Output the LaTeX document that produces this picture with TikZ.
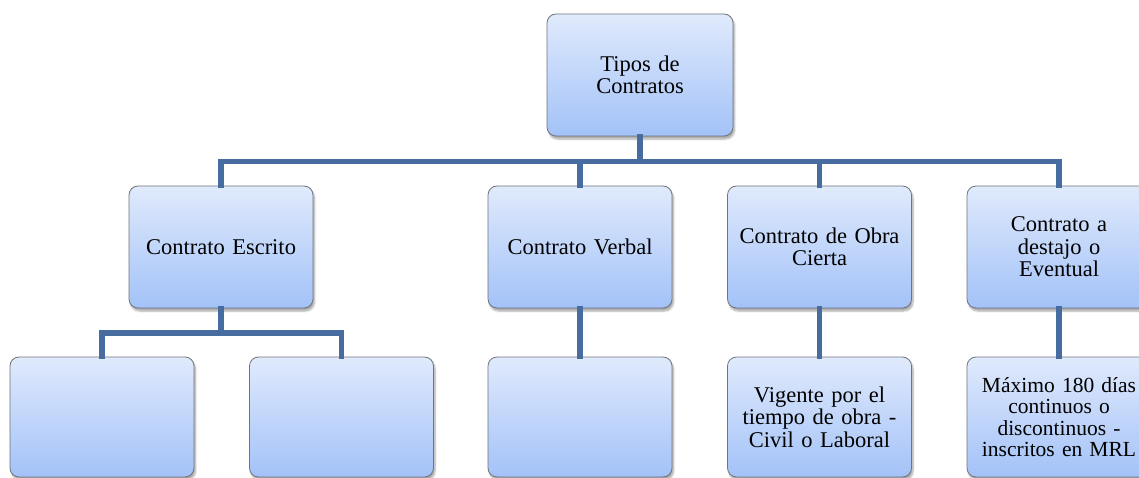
\documentclass[tikz,border=0pt]{standalone}
\usepackage{fontspec}
\setmainfont{Liberation Serif}[WordSpace={0.75,0.5,0.5}]
\usetikzlibrary{shadows.blur}
\definecolor{conncol}{RGB}{70,108,160}
\definecolor{boxtop}{RGB}{224,234,252}
\definecolor{boxbot}{RGB}{163,194,248}
\definecolor{boxline}{RGB}{112,116,124}
\tikzset{
  box/.style={rectangle, rounded corners=9pt, draw=boxline, line width=0.8pt,
    top color=boxtop, bottom color=boxbot, minimum width=184pt, text width=178pt,
    align=center, inner sep=0pt, font=\fontsize{22.5}{22.5}\selectfont,
    blur shadow={shadow xshift=1.5pt, shadow yshift=-3pt, shadow blur steps=6, shadow opacity=35}},
  upper/.style={box, minimum height=122pt},
  lower/.style={box, minimum height=120pt},
  conn/.style={draw=conncol, line width=5.5pt, line join=miter, line cap=rect}
}
\begin{document}
\begin{tikzpicture}[x=1pt,y=-1pt]
\useasboundingbox (0,0) rectangle (1139,478);
\coordinate (bar) at (0,161.5);
\coordinate (sub) at (0,333);
\node[upper, minimum width=186pt] (top) at (640,75) {Tipos de\\Contratos};
\node[upper] (esc) at (221,247) {Contrato Escrito};
\node[upper] (ver) at (580,247) {Contrato Verbal};
\node[upper] (obr) at (819.5,247) {Contrato de Obra\\Cierta};
\node[upper] (eve) at (1059,247) {Contrato a\\destajo o\\Eventual};
\node[lower] (e1) at (102,417) {};
\node[lower] (e2) at (341.5,417) {};
\node[lower] (v1) at (580,417) {};
\node[lower] (o1) at (819.5,417) {Vigente por el\\tiempo de obra -\\Civil o Laboral};
\node[lower, font=\fontsize{21.5}{21.5}\selectfont] (ev1) at (1059,417) {M\'aximo 180 d\'ias\\continuos o\\discontinuos -\\inscritos en MRL};
\draw[conn] (top.south) -- (top.south |- bar);
\draw[conn] (esc.north) -- (esc.north |- bar) -- (eve.north |- bar) -- (eve.north);
\draw[conn] (ver.north) -- (ver.north |- bar);
\draw[conn] (obr.north) -- (obr.north |- bar);
\draw[conn] (esc.south) -- (esc.south |- sub);
\draw[conn] (e1.north) -- (e1.north |- sub) -- (e2.north |- sub) -- (e2.north);
\draw[conn] (ver.south) -- (v1.north);
\draw[conn] (obr.south) -- (o1.north);
\draw[conn] (eve.south) -- (ev1.north);
\end{tikzpicture}
\end{document}
